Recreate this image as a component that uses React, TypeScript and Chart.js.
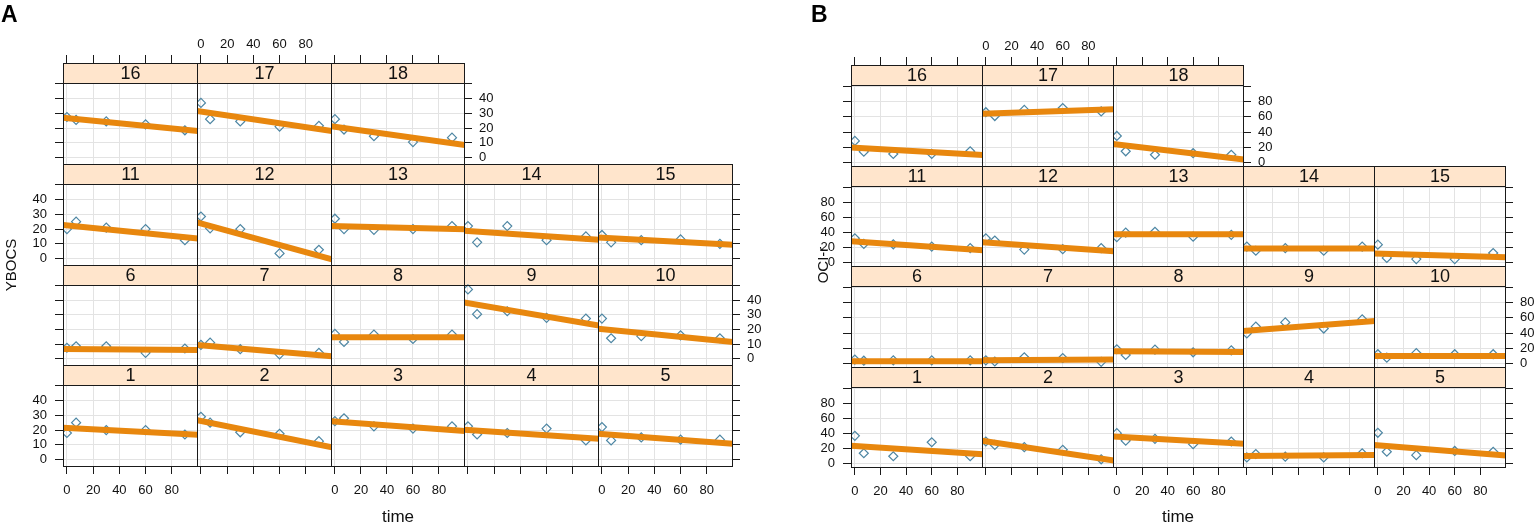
import React, { useEffect, useRef } from "react";
import { Chart, registerables } from "chart.js";

Chart.register(...registerables);

// ---------- data ----------
const TIMES = [0, 7, 30, 60, 90];
const X_TICKS = [0, 20, 40, 60, 80];
const X_MIN = -3;
const X_MAX = 100;

// lattice layout, rows from top to bottom
const LAYOUT_ROWS = [
  [16, 17, 18],
  [11, 12, 13, 14, 15],
  [6, 7, 8, 9, 10],
  [1, 2, 3, 4, 5],
];

// YBOCS observations for subjects 1..18 at TIMES
const YBOCS_OBS = [
  [18, 25, 20, 20, 17],
  [29, 25, 18.5, 17.5, 12.5],
  [26, 28, 22.5, 21, 22.5],
  [22.5, 17, 18, 21, 13],
  [22, 13, 15, 13.5, 13.5],
  [7.5, 8.5, 8.5, 4, 7],
  [9.5, 11, 6.5, 3, 4],
  [17, 11.5, 16.5, 13.5, 16.5],
  [47.5, 30.5, 32.5, 28, 27.5],
  [27.5, 14, 15.5, 16, 14],
  [20, 25, 21, 20, 12.5],
  [28.5, 20.5, 20, 3.5, 6],
  [27, 20, 19.5, 20, 22],
  [22, 11, 22, 12.5, 15],
  [16, 11, 12.5, 13, 10],
  [27.5, 25.5, 24.5, 22.5, 18.5],
  [37, 26, 24.5, 21, 21.5],
  [26, 19, 14.5, 10.5, 13.5],
];
// fitted line value at the left (X_MIN) and right (X_MAX) panel edges
const YBOCS_FIT_LEFT = [21.6, 26.6, 25.9, 20.2, 17.5, 6.7, 9.4, 14.7, 38.6, 20.5, 22.7, 24.5, 22, 18.9, 14.3, 27, 31.5, 21.3];
const YBOCS_FIT_RIGHT = [16.8, 8.4, 19.3, 14.1, 10.7, 6.0, 1.6, 14.7, 22.7, 11.4, 13.6, -0.5, 19.8, 12.7, 9.3, 18, 18, 8.5];
const YBOCS_Y_TICKS = [0, 10, 20, 30, 40, 50];
const YBOCS_Y_LABELS = [0, 10, 20, 30, 40];

// OCI-r observations for subjects 1..18 at TIMES
const OCIR_OBS = [
  [37, 14, 10, 28.5, 10],
  [29.5, 25, 22, 18.5, 6],
  [40.5, 30.5, 33, 26, 29.5],
  [8.5, 13, 9.5, 8.5, 14],
  [41, 16, 11.5, 17, 16],
  [5.5, 4, 4.5, 4.5, 4.5],
  [4.5, 3, 8.5, 7.5, 2.5],
  [19, 11.5, 18.5, 15, 17.5],
  [39.5, 48.5, 54, 46, 58],
  [12.5, 8, 14, 12.5, 12.5],
  [32.5, 25, 24.5, 21.5, 19.5],
  [32.5, 29.5, 17.5, 18, 19.5],
  [34, 40, 41, 34.5, 37],
  [21.5, 16, 19.5, 16, 21.5],
  [24, 6.5, 5, 5, 13],
  [28.5, 14.5, 11.5, 11.5, 15],
  [66, 61, 69, 71.5, 67],
  [35, 15, 10.5, 12.5, 10.5],
];
const OCIR_FIT_LEFT = [24, 30.4, 36, 10.5, 25, 3.4, 4.7, 16.2, 42.7, 10.1, 28.6, 27.3, 37.7, 19, 12.2, 20, 64, 24.4];
const OCIR_FIT_RIGHT = [12.8, 4.4, 26.4, 11.8, 11, 3.4, 5.6, 15.4, 56, 10.1, 16.5, 15.2, 37.7, 19, 7.4, 10.3, 69.7, 4.3];
const OCIR_Y_TICKS = [0, 20, 40, 60, 80, 100];
const OCIR_Y_LABELS = [0, 20, 40, 60, 80];

// ---------- styles ----------
const FONT = '"Liberation Sans", Arial, Helvetica, sans-serif';
const STRIP_BG = "#FFE5CC";
const LINE_COLOR = "#E8870E";
const POINT_COLOR = "#4d86a3";
const GRID_COLOR = "#e3e3e3";
const TICK_COLOR = "#1a1a1a";
const BORDER_COLOR = "#1a1a1a";
const M = 46;

type Fig = {
  letter: string;
  yTitle: string;
  obs: number[][];
  fitL: number[];
  fitR: number[];
  yTicks: number[];
  yLabels: number[];
  yMin: number;
  yMax: number;
  left: number;
  top: number;
  colW: number;
  rowH: number;
  stripH: number;
  letterX: number;
  letterY: number;
  titleX: number;
  titleY: number;
  timeX: number;
  timeY: number;
};

const FIG_A: Fig = {
  letter: "A",
  yTitle: "YBOCS",
  obs: YBOCS_OBS,
  fitL: YBOCS_FIT_LEFT,
  fitR: YBOCS_FIT_RIGHT,
  yTicks: YBOCS_Y_TICKS,
  yLabels: YBOCS_Y_LABELS,
  yMin: -5,
  yMax: 50.5,
  left: 63,
  top: 63,
  colW: 133.8,
  rowH: 100.75,
  stripH: 20,
  letterX: 1,
  letterY: 3,
  titleX: 10,
  titleY: 265,
  timeX: 398,
  timeY: 516,
};

const FIG_B: Fig = {
  letter: "B",
  yTitle: "OCI-r",
  obs: OCIR_OBS,
  fitL: OCIR_FIT_LEFT,
  fitR: OCIR_FIT_RIGHT,
  yTicks: OCIR_Y_TICKS,
  yLabels: OCIR_Y_LABELS,
  yMin: -5.5,
  yMax: 101.5,
  left: 851,
  top: 65,
  colW: 130.8,
  rowH: 100.5,
  stripH: 20,
  letterX: 811,
  letterY: 3,
  titleX: 822,
  titleY: 265,
  timeX: 1178,
  timeY: 516,
};

function makeAxis(
  position: string,
  horizontal: boolean,
  showTicks: boolean,
  showLabels: boolean,
  tickVals: number[],
  labelVals: number[],
  min: number,
  max: number,
  tickLen: number,
  pad: number,
  onArea: boolean
) {
  return {
    type: "linear",
    position,
    min,
    max,
    grid: {
      display: true,
      drawOnChartArea: onArea,
      drawTicks: showTicks,
      tickLength: tickLen,
      color: GRID_COLOR,
      tickColor: TICK_COLOR,
      lineWidth: 1,
      tickWidth: 1,
    },
    border: { display: false },
    ticks: {
      display: true,
      autoSkip: false,
      maxRotation: 0,
      minRotation: 0,
      padding: pad,
      color: "#111",
      font: { family: FONT, size: 13 },
      callback: (v: number) => (showLabels && labelVals.includes(v) ? String(v) : ""),
    },
    afterBuildTicks: (s: any) => {
      s.ticks = tickVals.map((v) => ({ value: v }));
    },
    afterFit: (s: any) => {
      if (horizontal) s.height = M;
      else s.width = M;
    },
  };
}

function Panel(props: { fig: Fig; subject: number; row: number; col: number; lastCol: number }) {
  const { fig, subject, row, col, lastCol } = props;
  const ref = useRef<HTMLCanvasElement | null>(null);
  const L = Math.round(fig.left + col * fig.colW);
  const R = Math.round(fig.left + (col + 1) * fig.colW);
  const T = Math.round(fig.top + row * fig.rowH);
  const B = Math.round(fig.top + (row + 1) * fig.rowH);
  const w = R - L + 1;
  const h = B - T + 1;
  const cw = w + 2 * M;
  const ch = h + 2 * M;

  useEffect(() => {
    const canvas = ref.current;
    if (!canvas) return;
    const idx = subject - 1;
    const stripH = fig.stripH;
    const plotH = h - stripH;
    const yTop = fig.yMax + ((fig.yMax - fig.yMin) * stripH) / plotH;
    const isTop = row === 0;
    const isBottom = row === LAYOUT_ROWS.length - 1;
    const isLeft = col === 0;
    const isRight = col === lastCol;

    const stripPlugin = {
      id: "strip" + subject,
      beforeDatasetsDraw(chart: any) {
        const { ctx, chartArea: a } = chart;
        ctx.save();
        ctx.fillStyle = STRIP_BG;
        ctx.fillRect(a.left, a.top, a.right - a.left, stripH);
        ctx.fillStyle = "#111";
        ctx.font = `18px ${FONT}`;
        ctx.textAlign = "center";
        ctx.textBaseline = "middle";
        ctx.fillText(String(subject), (a.left + a.right) / 2, a.top + stripH / 2 + 1.5);
        ctx.restore();
      },
      afterDatasetsDraw(chart: any) {
        const { ctx, chartArea: a } = chart;
        ctx.save();
        ctx.strokeStyle = BORDER_COLOR;
        ctx.lineWidth = 1;
        ctx.strokeRect(a.left + 0.5, a.top + 0.5, a.right - a.left - 1, a.bottom - a.top - 1);
        ctx.beginPath();
        ctx.moveTo(a.left, a.top + stripH + 0.5);
        ctx.lineTo(a.right, a.top + stripH + 0.5);
        ctx.stroke();
        ctx.restore();
      },
    };

    const chart = new Chart(canvas, {
      type: "scatter",
      data: {
        datasets: [
          {
            data: [
              { x: X_MIN, y: fig.fitL[idx] },
              { x: X_MAX, y: fig.fitR[idx] },
            ],
            showLine: true,
            borderColor: LINE_COLOR,
            backgroundColor: LINE_COLOR,
            borderWidth: 6,
            pointRadius: 0,
            borderCapStyle: "butt",
            xAxisID: "x",
            yAxisID: "y",
          },
          {
            data: TIMES.map((t, i) => ({ x: t, y: fig.obs[idx][i] })),
            pointStyle: "rectRot",
            pointRadius: 4.5,
            borderColor: POINT_COLOR,
            backgroundColor: "rgba(0,0,0,0)",
            borderWidth: 1.2,
            xAxisID: "x",
            yAxisID: "y",
          },
        ],
      } as any,
      options: {
        animation: false,
        responsive: false,
        maintainAspectRatio: false,
        events: [],
        layout: { padding: 0 },
        plugins: {
          legend: { display: false },
          tooltip: { enabled: false },
          title: { display: false },
        },
        scales: {
          x: makeAxis("bottom", true, isBottom, isBottom && col % 2 === 0, X_TICKS, X_TICKS, X_MIN, X_MAX, 7, 9, true),
          xTop: makeAxis("top", true, isTop, isTop && col % 2 === 1, X_TICKS, X_TICKS, X_MIN, X_MAX, 8, 3, false),
          y: makeAxis("left", false, isLeft, isLeft && row % 2 === 1, fig.yTicks, fig.yLabels, fig.yMin, yTop, 8, 8, true),
          yRight: makeAxis("right", false, isRight, isRight && row % 2 === 0, fig.yTicks, fig.yLabels, fig.yMin, yTop, 7, 7, false),
        },
      } as any,
      plugins: [stripPlugin],
    });
    return () => chart.destroy();
  }, []);

  return (
    <canvas
      ref={ref}
      width={cw}
      height={ch}
      style={{ position: "absolute", left: L - M, top: T - M, width: cw, height: ch }}
    />
  );
}

function Figure({ fig }: { fig: Fig }) {
  const panels: React.ReactNode[] = [];
  LAYOUT_ROWS.forEach((subs, row) => {
    subs.forEach((s, col) => {
      panels.push(
        <Panel key={s} fig={fig} subject={s} row={row} col={col} lastCol={subs.length - 1} />
      );
    });
  });
  return (
    <>
      {panels}
      <div
        style={{
          position: "absolute",
          left: fig.letterX,
          top: fig.letterY,
          fontSize: 23,
          fontWeight: "bold",
          lineHeight: "23px",
          fontFamily: FONT,
          color: "#000",
        }}
      >
        {fig.letter}
      </div>
      <div
        style={{
          position: "absolute",
          left: fig.titleX,
          top: fig.titleY,
          transform: "translate(-50%, -50%) rotate(-90deg)",
          fontSize: 15,
          lineHeight: "15px",
          whiteSpace: "nowrap",
          fontFamily: FONT,
          color: "#111",
        }}
      >
        {fig.yTitle}
      </div>
      <div
        style={{
          position: "absolute",
          left: fig.timeX,
          top: fig.timeY,
          transform: "translate(-50%, -50%)",
          fontSize: 17,
          lineHeight: "17px",
          whiteSpace: "nowrap",
          fontFamily: FONT,
          color: "#111",
        }}
      >
        time
      </div>
    </>
  );
}

export default function App() {
  return (
    <div
      style={{
        position: "absolute",
        left: 0,
        top: 0,
        width: 1536,
        height: 530,
        background: "#fff",
        overflow: "hidden",
      }}
    >
      <Figure fig={FIG_A} />
      <Figure fig={FIG_B} />
    </div>
  );
}
